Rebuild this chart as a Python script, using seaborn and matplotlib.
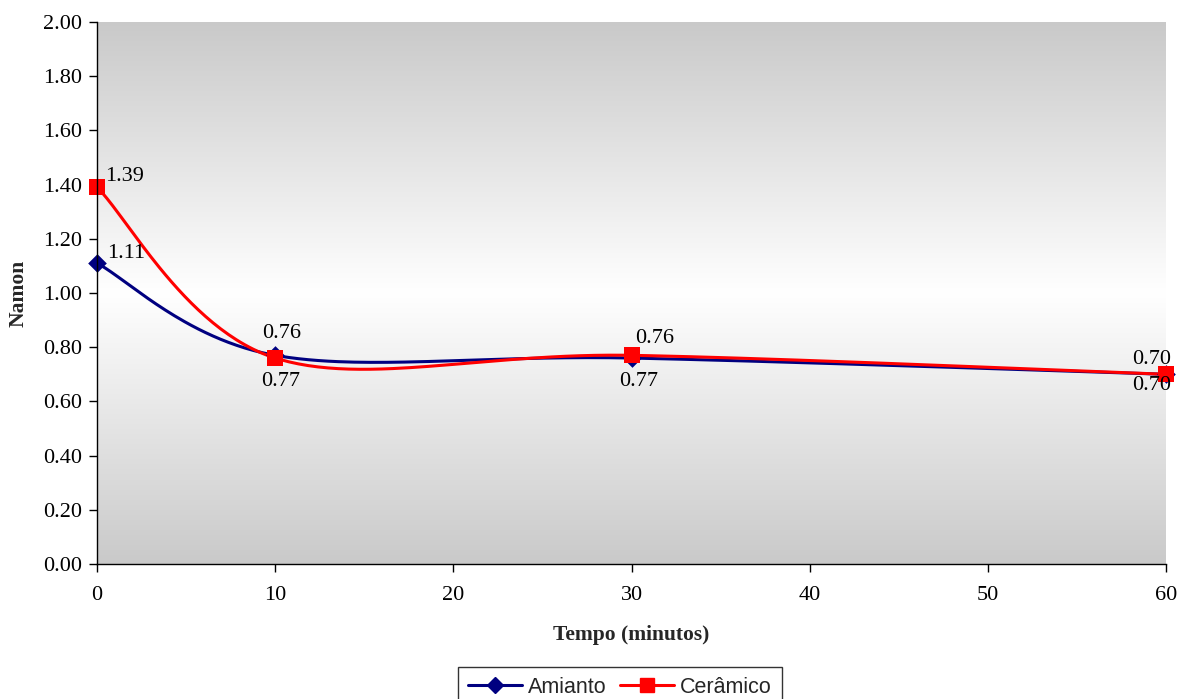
import numpy as np
import pandas as pd
import matplotlib
matplotlib.use("Agg")
import matplotlib.pyplot as plt
from matplotlib.lines import Line2D
from matplotlib.ticker import FormatStrFormatter
import seaborn as sns

# ---- data ----
tempo = [0, 10, 30, 60]
amianto = [1.11, 0.77, 0.76, 0.70]
ceramico = [1.39, 0.76, 0.77, 0.70]
series_names = ["Amianto", "Cerâmico"]
x_ticks = [0, 10, 20, 30, 40, 50, 60]
y_ticks = [0.0, 0.2, 0.4, 0.6, 0.8, 1.0, 1.2, 1.4, 1.6, 1.8, 2.0]

sns.set_style("ticks")
plt.rcParams["font.family"] = ["Liberation Serif", "DejaVu Serif"]


def smooth_curve(xs, ys, n=60):
    """Cubic Bezier smoothing through every point (spreadsheet-style smoothed line)."""
    pts = np.column_stack([xs, ys]).astype(float)
    out = []
    for i in range(len(pts) - 1):
        p0 = pts[i]
        p3 = pts[i + 1]
        prev = pts[i - 1] if i > 0 else pts[i]
        nxt = pts[i + 2] if i + 2 < len(pts) else pts[i + 1]
        c1 = p0 + (p3 - prev) / 6.0
        c2 = p3 - (nxt - p0) / 6.0
        t = np.linspace(0, 1, n)[:, None]
        seg = ((1 - t) ** 3) * p0 + 3 * ((1 - t) ** 2) * t * c1 + 3 * (1 - t) * t ** 2 * c2 + t ** 3 * p3
        out.append(seg if i == 0 else seg[1:])
    return np.vstack(out)


W, H = 1188, 699
fig = plt.figure(figsize=(W / 100, H / 100), dpi=100)
ax = fig.add_axes([97 / W, (H - 564) / H, (1166 - 97) / W, (564 - 22) / H])

# vertical gradient background: grey at top and bottom, white in the middle
yy = np.linspace(0, 1, 256)
shade = 0.79 + 0.21 * (1 - np.abs(yy - 0.5) / 0.5)
grad = np.dstack([shade, shade, shade]).reshape(256, 1, 3)
ax.imshow(grad, extent=[0, 60, 0, 2], origin="lower", aspect="auto", zorder=0,
          interpolation="bilinear")

styles = {
    "Amianto": dict(color="#000080", marker="D", ms=9.5),
    "Cerâmico": dict(color="#ff0000", marker="s", ms=12),
}

for name, vals in zip(series_names, [amianto, ceramico]):
    st = styles[name]
    curve = smooth_curve(tempo, vals)
    df = pd.DataFrame({"x": curve[:, 0], "y": curve[:, 1]})
    sns.lineplot(data=df, x="x", y="y", sort=False, ax=ax, color=st["color"],
                 lw=2.2, zorder=3, clip_on=False, estimator=None)
    pts = pd.DataFrame({"x": tempo, "y": vals})
    sns.scatterplot(data=pts, x="x", y="y", ax=ax, marker=st["marker"],
                    color=st["color"], s=st["ms"] ** 2, linewidth=0,
                    zorder=4, clip_on=False)

# value labels (offsets in points)
label_offsets = {
    "Amianto": [(21, 7), (4, -19), (17, 14), (-10, 11)],
    "Cerâmico": [(20, 8), (5, 18), (5, -19), (-10, -8)],
}
for name, vals in zip(series_names, [amianto, ceramico]):
    for xv, yv, off in zip(tempo, vals, label_offsets[name]):
        ax.annotate(f"{yv:.2f}", (xv, yv), xytext=off, textcoords="offset points",
                    ha="center", va="center", fontsize=16, color="black", zorder=5)

ax.set_xlim(0, 60)
ax.set_ylim(0, 2)
ax.set_xticks(x_ticks)
ax.set_yticks(y_ticks)
ax.yaxis.set_major_formatter(FormatStrFormatter("%.2f"))
ax.tick_params(direction="out", length=6, width=1, labelsize=16, colors="black", pad=5)
ax.tick_params(axis="x", pad=10)
for s in ["top", "right"]:
    ax.spines[s].set_visible(False)
for s in ["left", "bottom"]:
    ax.spines[s].set_color("black")
    ax.spines[s].set_linewidth(1)
    ax.spines[s].set_zorder(6)

ax.set_xlabel("Tempo (minutos)", fontsize=15.5, fontweight="bold", labelpad=14)
ax.set_ylabel("Namon", fontsize=15.5, fontweight="bold", labelpad=10)

handles = [
    Line2D([], [], color=styles[n]["color"], marker=styles[n]["marker"],
           ms=styles[n]["ms"] * 0.85, lw=2.2) for n in series_names
]
leg = fig.legend(handles, series_names, loc="upper center",
                 bbox_to_anchor=(620 / W, 1 - 667 / H), ncol=2, frameon=True,
                 fancybox=False, edgecolor="black", handlelength=2.5,
                 handletextpad=0.3, columnspacing=0.6, borderpad=0.45,
                 borderaxespad=0,
                 prop={"family": "Liberation Sans", "size": 15.5})
leg.get_frame().set_linewidth(1)

fig.savefig("out.png", dpi=100)
